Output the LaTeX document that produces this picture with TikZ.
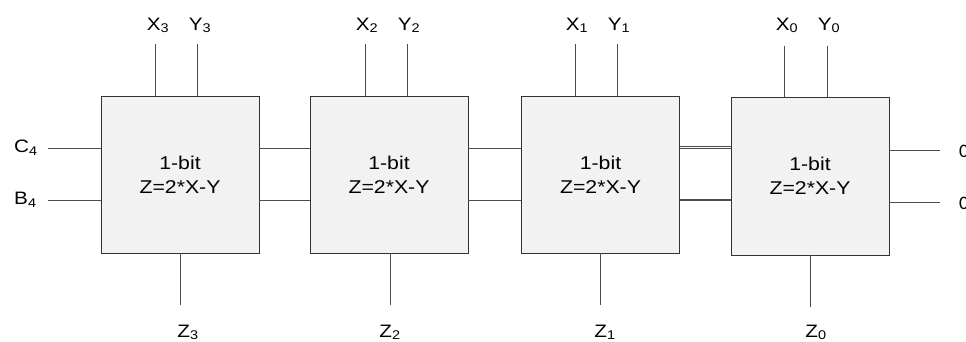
\documentclass[tikz,border=0pt]{standalone}
\usepackage{fontspec}
\setmainfont[FakeStretch=1.15]{Liberation Sans}
\newfontfamily\calfont{Carlito}
\begin{document}
\begin{tikzpicture}[x=1pt,y=-1pt,
  blk/.style={draw=black!80, fill=black!5, line width=0.9pt, minimum width=158pt, minimum height=157pt, inner sep=0pt, align=center, font=\fontsize{18.5}{24}\selectfont},
  wire/.style={draw=black!70, line width=0.9pt},
  lbl/.style={anchor=base, inner sep=0pt, font=\fontsize{18}{20}\selectfont},
  sidelbl/.style={anchor=west, inner sep=0pt, font=\fontsize{18}{20}\selectfont}]
\useasboundingbox (0,0) rectangle (966,341);
% blocks
\node[blk] (b3) at (180,174.5) {1-bit\\Z=2*X-Y};
\node[blk] (b2) at (389,174.5) {1-bit\\Z=2*X-Y};
\node[blk] (b1) at (600.5,174.5) {1-bit\\Z=2*X-Y};
\node[blk, minimum height=158pt] (b0) at (810,176) {1-bit\\Z=2*X-Y};
% free ends
\coordinate (x3) at (155,44); \coordinate (y3) at (197,44); \coordinate (z3) at (180,305);
\coordinate (x2) at (365,44); \coordinate (y2) at (407,44); \coordinate (z2) at (390,305);
\coordinate (x1) at (575,44); \coordinate (y1) at (617,44); \coordinate (z1) at (600,305);
\coordinate (x0) at (784,46); \coordinate (y0) at (827,46); \coordinate (z0) at (810,307);
\coordinate (c4) at (48,148); \coordinate (bb4) at (48,200.5);
\coordinate (o1) at (940,150); \coordinate (o2) at (940,202);
% vertical wires
\foreach \b/\i in {b3/3,b2/2,b1/1,b0/0}{
  \draw[wire] (x\i) -- (x\i |- \b.north);
  \draw[wire] (y\i) -- (y\i |- \b.north);
  \draw[wire] (z\i) -- (z\i |- \b.south);
}
% left inputs
\draw[wire] (c4) -- (c4 -| b3.west);
\draw[wire] (bb4) -- (bb4 -| b3.west);
% chain wires
\draw[wire] (b3.east |- c4) -- (b2.west |- c4);
\draw[wire] (b3.east |- bb4) -- (b2.west |- bb4);
\draw[wire] (b2.east |- c4) -- (b1.west |- c4);
\draw[wire] (b2.east |- bb4) -- (b1.west |- bb4);
\draw[wire] (b1.east |- c4) -- (b0.west |- c4);
\draw[wire] ([yshift=2pt]b1.east |- c4) -- ([yshift=2pt]b0.west |- c4);
\draw[wire] (b1.east |- bb4) -- (b0.west |- bb4);
\draw[wire] ([yshift=1.5pt]b1.east |- bb4) -- ([yshift=1.5pt]b0.west |- bb4);
% right outputs
\draw[wire] (b0.east |- o1) -- (o1);
\draw[wire] (b0.east |- o2) -- (o2);
% labels
\node[lbl] (lx3) at (158,30) {X\textsubscript{3}};
\node[lbl] (ly3) at (200,30) {Y\textsubscript{3}};
\node[lbl] (lx2) at (367,30) {X\textsubscript{2}};
\node[lbl] (ly2) at (409,30) {Y\textsubscript{2}};
\node[lbl] (lx1) at (577,30) {X\textsubscript{1}};
\node[lbl] (ly1) at (619,30) {Y\textsubscript{1}};
\node[lbl] (lx0) at (787,30) {X\textsubscript{0}};
\node[lbl] (ly0) at (829,30) {Y\textsubscript{0}};
\node[lbl] (lz3) at (188,337) {Z\textsubscript{3}};
\node[lbl] (lz2) at (390,337) {Z\textsubscript{2}};
\node[lbl] (lz1) at (605,337) {Z\textsubscript{1}};
\node[lbl] (lz0) at (816,337) {Z\textsubscript{0}};
\node[sidelbl] (lc4) at (14,148) {C\textsubscript{4}};
\node[sidelbl] (lb4) at (14,200) {B\textsubscript{4}};
\node[sidelbl, font=\calfont\fontsize{19}{20}\selectfont] (lo1) at (959,151) {0};
\node[sidelbl, font=\calfont\fontsize{19}{20}\selectfont] (lo2) at (959,203) {0};
\end{tikzpicture}
\end{document}
